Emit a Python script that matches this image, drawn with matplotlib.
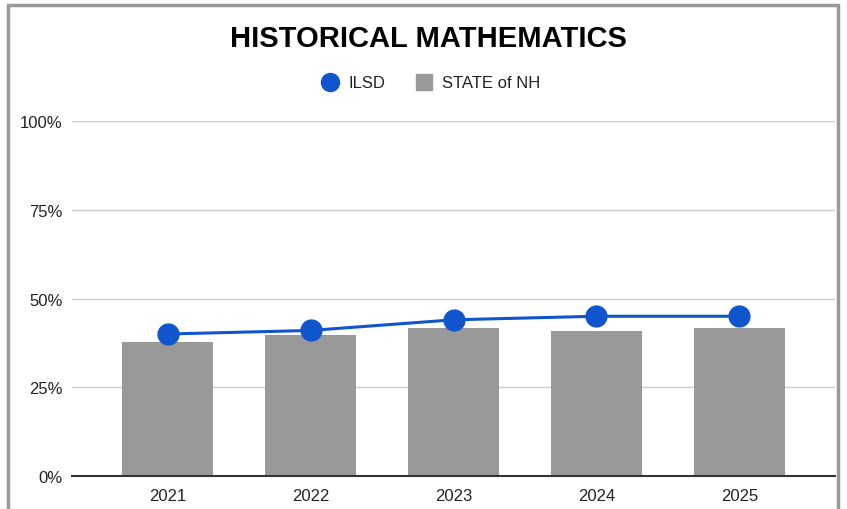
import matplotlib
matplotlib.use("Agg")
import matplotlib.pyplot as plt
from matplotlib.lines import Line2D
from matplotlib.patches import Rectangle
from matplotlib.ticker import FuncFormatter

plt.rcParams['font.family'] = ['Liberation Sans', 'DejaVu Sans']

years = ["2021", "2022", "2023", "2024", "2025"]
state_nh = [37.7, 39.7, 41.7, 40.9, 41.7]
ilsd = [40, 41, 44, 45, 45]
yticks = [0, 25, 50, 75, 100]

W, H = 847, 510
fig = plt.figure(figsize=(W / 100, H / 100), dpi=100)
ax = fig.add_axes([72 / W, (H - 477) / H, (835 - 72) / W, (477 - 122) / H])

x = list(range(len(years)))
ax.bar(x, state_nh, width=0.64, color="#999999", zorder=2)
ax.plot(x, ilsd, color="#1155cc", linewidth=2.2, marker="o", markersize=15,
        markerfacecolor="#1155cc", markeredgecolor="#1155cc", zorder=3)

ax.set_xlim(-0.67, 4.67)
ax.set_ylim(0, 100)
ax.set_yticks(yticks)
ax.yaxis.set_major_formatter(FuncFormatter(lambda v, p: f"{int(v)}%"))
ax.set_xticks(x)
ax.set_xticklabels(years)
ax.grid(axis="y", color="#cccccc", linewidth=1, zorder=0)
for s in ["top", "right", "left"]:
    ax.spines[s].set_visible(False)
ax.spines["bottom"].set_color("#333333")
ax.spines["bottom"].set_linewidth(1.5)
ax.spines["bottom"].set_zorder(4)
ax.tick_params(axis="both", length=0, labelsize=12, colors="#222222")
ax.tick_params(axis="x", pad=9)
ax.tick_params(axis="y", pad=7)

fig.text(428 / W, 1 - 39 / H, "HISTORICAL MATHEMATICS", ha="center", va="center",
         fontsize=21, fontweight="bold", color="#000000")

handles = [
    Line2D([], [], linestyle="none", marker="o", markersize=13, color="#1155cc", label="ILSD"),
    Line2D([], [], linestyle="none", marker="s", markersize=11, color="#999999", label="STATE of NH"),
]
fig.legend(handles=handles, loc="center", bbox_to_anchor=(431 / W, 1 - 84 / H), ncol=2,
           frameon=False, fontsize=12, handletextpad=0.6, columnspacing=1.8,
           handlelength=1.0, labelcolor="#222222")

fig.patches.append(Rectangle((8 / W, -0.05), (838 - 8) / W, 1 - 5.5 / H + 0.05,
                             transform=fig.transFigure, fill=False,
                             edgecolor="#999999", linewidth=2.5))

fig.savefig("out.png", dpi=100)
